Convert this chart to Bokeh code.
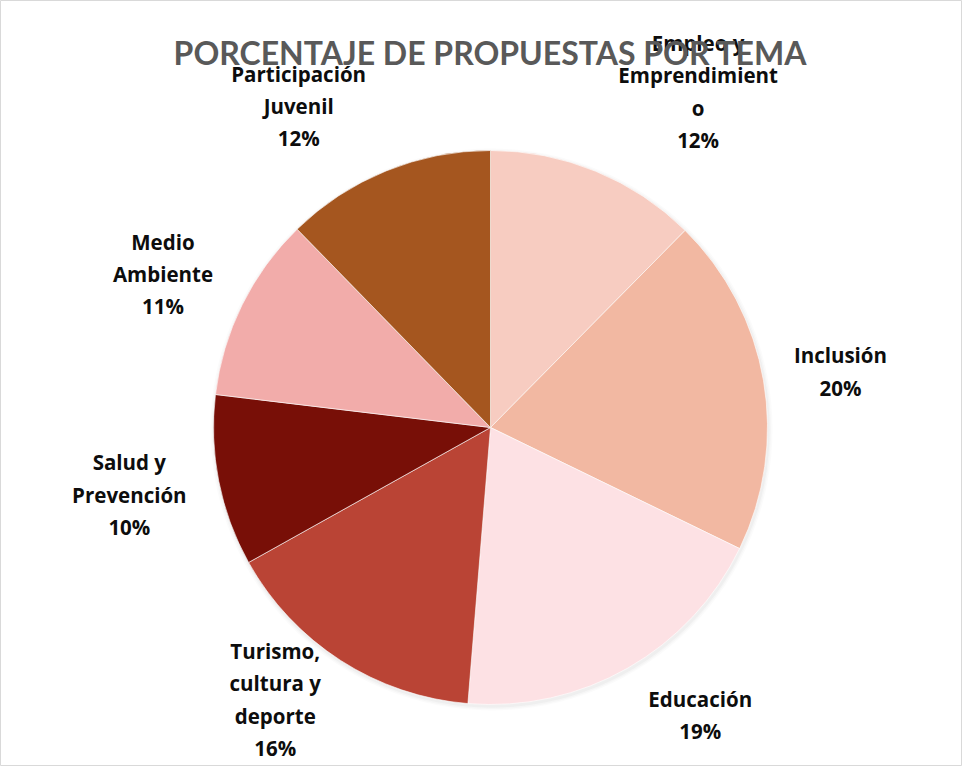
import math
from bokeh.plotting import figure
from bokeh.models import Range1d, ColumnDataSource
from bokeh.core.properties import value
from bokeh.embed import file_html
from bokeh.resources import INLINE

# ---- data ----
categories = ["Empleo y Emprendimiento", "Inclusión", "Educación",
              "Turismo, cultura y deporte", "Salud y Prevención",
              "Medio Ambiente", "Participación Juvenil"]
label_lines = ["Empleo y\nEmprendimient\no", "Inclusión", "Educación",
               "Turismo,\ncultura y\ndeporte", "Salud y\nPrevención",
               "Medio\nAmbiente", "Participación\nJuvenil"]
shares = [12.4, 19.8, 19.1, 15.6, 10.0, 10.8, 12.3]
colors = ["#F7CCC1", "#F2B8A2", "#FDE1E4", "#BA4435", "#780F07", "#F2ACAA", "#A5561F"]
title_text = "PORCENTAJE DE PROPUESTAS POR TEMA"

# ---- layout (y measured downward from the top of the chart) ----
W, H = 962, 766
cx, cy_top, r = 490, 427, 277
cy = H - cy_top
LABEL_FONT = "Open Sans"
TITLE_FONT = "Lato"
LABEL_SIZE = 20.5
LINE_H = 1.15
LINE_PX = 32

# approximate advance widths (em) of Open Sans Bold, for label box sizing
ADV = {"a": .60, "b": .63, "c": .51, "d": .63, "e": .60, "f": .37, "i": .29,
       "j": .29, "l": .29, "m": .96, "n": .64, "o": .62, "p": .63, "r": .43,
       "s": .50, "t": .41, "u": .64, "v": .56, "y": .56, "ó": .62, "á": .60,
       "E": .56, "P": .61, "T": .56, "J": .31, "M": .86, "S": .55, "A": .69,
       "I": .35, "%": .88, ",": .28, " ": .26}


def text_w(line):
    return sum(ADV.get(ch, .57) for ch in line) * LABEL_SIZE


p = figure(width=W, height=H, output_backend="svg", toolbar_location=None,
           x_range=Range1d(0, W), y_range=Range1d(0, H),
           min_border=0, tools="")
p.axis.visible = False
p.grid.visible = False
p.outline_line_color = "#D9D9D9"
p.outline_line_width = 1
p.background_fill_color = "white"
p.border_fill_color = "white"

total = sum(shares)
starts, ends, mids = [], [], []
acc = 0.0
for s in shares:
    a0 = acc / total * 2 * math.pi
    acc += s
    a1 = acc / total * 2 * math.pi
    starts.append(math.pi / 2 - a0)
    ends.append(math.pi / 2 - a1)
    mids.append((a0 + a1) / 2)

# soft shadow
for dr, al in [(4, 0.03), (2.5, 0.04), (1.2, 0.06)]:
    p.circle(x=[cx + 1], y=[cy - 2], radius=r + dr, fill_color="#808080",
             fill_alpha=al, line_color=None)

src = ColumnDataSource(dict(start=starts, end=ends, color=colors, cat=categories))
p.wedge(x=cx, y=cy, radius=r, start_angle="start", end_angle="end",
        direction="clock", fill_color="color", line_color="white",
        line_width=0.6, source=src)

# labels: box touches a point just outside the pie at the slice's mid-angle
lx, ly, texts = [], [], []
for lab, s, th in zip(label_lines, shares, mids):
    txt = lab + "\n" + f"{round(s / total * 100):.0f}%"
    lines = txt.split("\n")
    w = max(text_w(l) for l in lines)
    h = len(lines) * LINE_PX
    d = 1.08 * r
    px = cx + d * math.sin(th)
    py = cy + d * math.cos(th)
    fx = 1.2 * max(-1, min(1, 3 * math.sin(th)))
    fy = math.cos(th)
    x = px + fx * w / 2
    y = py + fy * h / 2
    # keep label inside the chart area
    y = max(y, h / 2 + 3)
    y = min(y, H - h / 2 - 2)
    lx.append(x)
    ly.append(y)
    texts.append(txt)

p.text(x=lx, y=ly, text=texts, text_font=value(LABEL_FONT), text_font_style="bold",
       text_font_size=f"{LABEL_SIZE}px", text_color="#0D0D0D",
       text_align="center", text_baseline="middle", text_line_height=LINE_H)

# title drawn on top of the labels, as in the original
p.text(x=[cx], y=[H - 52], text=[title_text], text_font=value(TITLE_FONT),
       text_font_style="bold", text_font_size="32px", text_color="#595959",
       text_align="center", text_baseline="middle")

open("out.html", "w").write(file_html(p, INLINE))
